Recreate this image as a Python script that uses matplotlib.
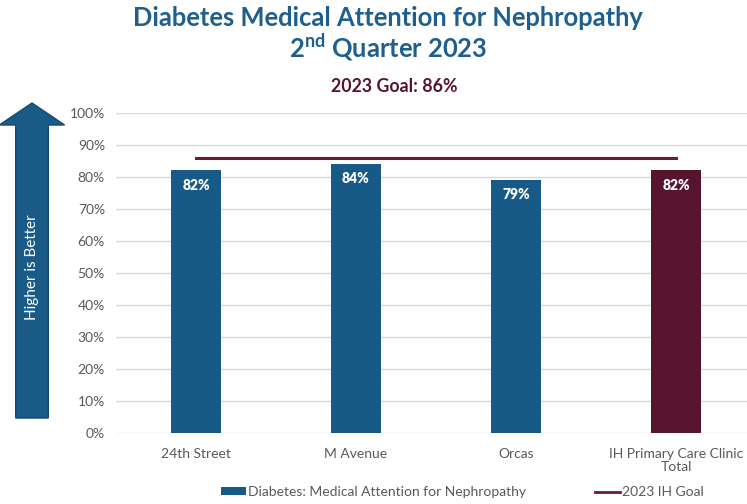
import matplotlib
matplotlib.use("Agg")
import matplotlib.pyplot as plt
from matplotlib.patches import FancyArrow, Patch
from matplotlib.lines import Line2D
from matplotlib.ticker import PercentFormatter

categories = ["24th Street", "M Avenue", "Orcas", "IH Primary Care Clinic\nTotal"]
values = [82, 84, 79, 82]
goal = 86
yticks = [0, 10, 20, 30, 40, 50, 60, 70, 80, 90, 100]

BLUE = "#175A88"
MAROON = "#56142E"
GOAL_LINE = "#6A1B36"
TITLE_BLUE = "#1F5F8F"
GREY = "#595959"

plt.rcParams['mathtext.fontset'] = 'custom'
plt.rcParams['mathtext.rm'] = 'Lato:bold'
plt.rcParams['mathtext.it'] = 'Lato:bold'
plt.rcParams['mathtext.bf'] = 'Lato:bold'

fig = plt.figure(figsize=(7.47, 5.04), dpi=100)
ax = fig.add_axes([116/747, 71.3/504, 640/747, 320/504])

x = list(range(len(categories)))
colors = [BLUE, BLUE, BLUE, MAROON]
bars = ax.bar(x, values, width=0.31, color=colors, zorder=3)
for xi, v in zip(x, values):
    ax.text(xi, v - 4.6, f"{v}%", ha="center", va="center", color="white",
            fontsize=10, fontweight="heavy", family="Lato", zorder=4)

ax.plot([x[0], x[-1]], [goal, goal], color=GOAL_LINE, lw=2.2, zorder=4)

ax.set_xlim(-0.5, len(categories) - 0.5)
ax.set_ylim(0, 100)
ax.set_yticks(yticks)
ax.yaxis.set_major_formatter(PercentFormatter(decimals=0))
ax.grid(axis="y", color="#D9D9D9", lw=1, zorder=0)
for s in ax.spines.values():
    s.set_visible(False)
ax.tick_params(length=0, labelsize=10, labelcolor=GREY, pad=8)
ax.set_xticks(x)
ax.set_xticklabels(categories, family="Lato", linespacing=1.1)
for lbl in ax.get_yticklabels():
    lbl.set_family("Lato")
ax.tick_params(axis="x", pad=11)

# Titles
fig.text(388/747, 1 - 18/504, "Diabetes Medical Attention for Nephropathy", ha="center",
         va="center", fontsize=18.4, fontweight="bold", color=TITLE_BLUE, family="Lato")
fig.text(388/747, 1 - 48/504, r"2$^{\mathrm{nd}}$ Quarter 2023", ha="center",
         va="center", fontsize=18.4, fontweight="bold", color=TITLE_BLUE, family="Lato")
fig.text(394/747, 1 - 86/504, "2023 Goal: 86%", ha="center", va="center",
         fontsize=12.8, fontweight="bold", color=MAROON, family="Lato")

# Higher is Better arrow
arr = FancyArrow(32/747, 1 - 418/504, 0, (418 - 103)/504, width=22/504,
                 head_width=44/747 * 747/504, head_length=22/504,
                 length_includes_head=True, color="#1A5A87", ec="#134A70",
                 transform=fig.transFigure, figure=fig)
fig.patches.append(arr)
fig.text(32/747, 1 - 267/504, "Higher is Better", rotation=90, ha="center",
         va="center", color="white", fontsize=11, family="Lato")

handles = [Patch(facecolor=BLUE, label="Diabetes: Medical Attention for Nephropathy"),
           Line2D([0], [0], color=GOAL_LINE, lw=2, label="2023 IH Goal")]
leg = fig.legend(handles=handles, loc="center", bbox_to_anchor=(462.5/747, 1 - 492/504),
                 ncol=2, frameon=False, columnspacing=5.0, borderpad=0, borderaxespad=0,
                 handlelength=1.8, handleheight=0.5, handletextpad=0.15,
                 prop={"family": "Lato", "size": 10})
for t in leg.get_texts():
    t.set_color(GREY)

fig.savefig("out.png", dpi=100)
